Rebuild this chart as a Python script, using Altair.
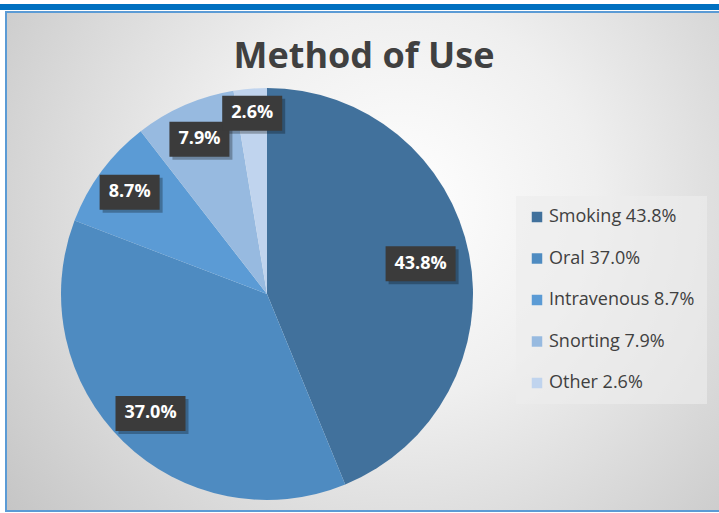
import altair as alt
import pandas as pd

# ---- data ----
categories = ["Smoking", "Oral", "Intravenous", "Snorting", "Other"]
values = [43.8, 37.0, 8.7, 7.9, 2.6]
colors = ["#41719C", "#4E8BC1", "#5B9BD5", "#97BAE0", "#C0D4EE"]
title_text = ["Method of Use"]

# layout: label distance from centre as a fraction of the pie radius
label_r = [0.76, 0.81, 0.83, 0.82, 0.88]

df = pd.DataFrame({
    "idx": list(range(len(categories))),
    "category": categories,
    "value": values,
    "lr": label_r,
})
df["legend"] = [f"{c} {v:.1f}%" for c, v in zip(categories, values)]
legend_labels = list(df["legend"])

one = pd.DataFrame({"t": title_text})

W, H = 719, 513
CX, CY, R = 267, 294, 206

xs = alt.Scale(domain=[-1, 1], range=[CX - R, CX + R], nice=False, zero=False)
ys = alt.Scale(domain=[-1, 1], range=[CY + R, CY - R], nice=False, zero=False)

# ---- background & frame ----
topbar = alt.Chart(one).mark_rect(fill="#0070C0").encode(
    x=alt.value(0), x2=alt.value(W), y=alt.value(4), y2=alt.value(10)
)
bg = alt.Chart(one).mark_rect(
    fill={
        "gradient": "radial",
        "x1": 0.55, "y1": 0.42, "r1": 0,
        "x2": 0.55, "y2": 0.42, "r2": 0.78,
        "stops": [
            {"offset": 0, "color": "#FFFFFF"},
            {"offset": 0.35, "color": "#EFEFEF"},
            {"offset": 1, "color": "#BDBDBD"},
        ],
    },
    stroke="#5B9BD5",
    strokeWidth=2,
).encode(x=alt.value(6), x2=alt.value(W + 4), y=alt.value(12), y2=alt.value(511))

title = alt.Chart(one).mark_text(
    font="Open Sans", fontWeight="bold", fontSize=36, color="#404040",
    baseline="alphabetic", align="center"
).encode(x=alt.value(364), y=alt.value(68), text="t:N")

base = alt.Chart(df)

pie = base.mark_arc(outerRadius=R, stroke=None).encode(
    theta=alt.Theta("value:Q", stack=True),
    order=alt.Order("idx:Q"),
    color=alt.Color(
        "legend:N",
        scale=alt.Scale(domain=legend_labels, range=colors),
        sort=legend_labels,
        legend=alt.Legend(
            title=None, orient="none", legendX=516, legendY=196,
            fillColor="rgba(236,236,236,0.65)", padding=12,
            rowPadding=23.5, symbolType="square", symbolSize=110,
            symbolStrokeWidth=0, labelFont="Open Sans", labelFontSize=18,
            labelColor="#404040", labelOffset=3, labelLimit=300,
        ),
    ),
    x=alt.value(CX), y=alt.value(CY),
)

lab = base.transform_window(
    cum="sum(value)", frame=[None, 0], sort=[{"field": "idx"}]
).transform_joinaggregate(
    total="sum(value)"
).transform_calculate(
    mid="2*PI*(datum.cum - datum.value/2)/datum.total",
    label="format(datum.value, '.1f') + '%'",
).transform_calculate(
    lx="datum.lr*sin(datum.mid)",
    ly="datum.lr*cos(datum.mid)",
    hw=f"(5*length(datum.label)+10)/{R}",
    hh=f"17.5/{R}",
    sh=f"3/{R}",
).transform_calculate(
    x1="datum.lx - datum.hw", x2="datum.lx + datum.hw",
    y1="datum.ly - datum.hh", y2="datum.ly + datum.hh",
    sx1="datum.lx - datum.hw + datum.sh", sx2="datum.lx + datum.hw + datum.sh",
    sy1="datum.ly - datum.hh - datum.sh", sy2="datum.ly + datum.hh - datum.sh",
)

shadow = lab.mark_rect(fill="#000000", opacity=0.28).encode(
    x=alt.X("sx1:Q", scale=xs, axis=None), x2="sx2:Q",
    y=alt.Y("sy1:Q", scale=ys, axis=None), y2="sy2:Q",
)
box = lab.mark_rect(fill="#3B3B3B").encode(
    x=alt.X("x1:Q", scale=xs, axis=None), x2="x2:Q",
    y=alt.Y("y1:Q", scale=ys, axis=None), y2="y2:Q",
)
txt = lab.mark_text(
    font="Open Sans", fontWeight="bold", fontSize=18, color="white",
    align="center", baseline="middle"
).encode(
    x=alt.X("lx:Q", scale=xs, axis=None),
    y=alt.Y("ly:Q", scale=ys, axis=None),
    text="label:N",
)

chart = alt.layer(topbar, bg, title, pie, shadow, box, txt).properties(
    width=W, height=H, padding=0, autosize=alt.AutoSizeParams(type="none"),
    background="white",
).configure_view(stroke=None)

chart.save("out.html", embed_options={"renderer": "svg", "actions": False})
